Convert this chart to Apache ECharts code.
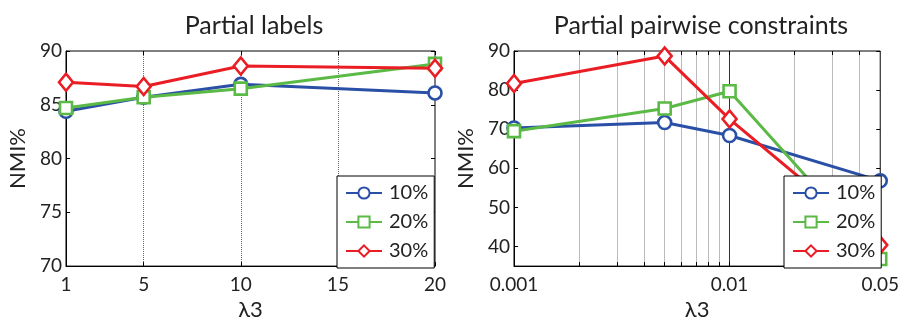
<!DOCTYPE html>
<html><head><meta charset="utf-8">
<script src="https://cdn.jsdelivr.net/npm/echarts@6/dist/echarts.min.js"></script>
<style>html,body{margin:0;padding:0;background:#fff}#c{width:902px;height:326px}</style>
</head><body><div id="c"></div>
<script>
// ---- data ----
const seriesNames = ['10%', '20%', '30%'];
const labelX = [1, 5, 10, 20];
const labelTicksX = [1, 5, 10, 15, 20];
const labelTicksY = [70, 75, 80, 85, 90];
const label10 = [84.4, 85.7, 86.9, 86.1];
const label20 = [84.7, 85.7, 86.5, 88.8];
const label30 = [87.1, 86.7, 88.6, 88.4];

const pairX = [0.001, 0.005, 0.01, 0.05];
const pairLabelTicksX = [0.001, 0.01, 0.05];
const pairGridX = [0.002, 0.003, 0.004, 0.005, 0.006, 0.007, 0.008, 0.009, 0.01, 0.02, 0.03, 0.04];
const pairTicksY = [40, 50, 60, 70, 80, 90];
const pair10 = [70.3, 71.7, 68.4, 56.8];
const pair20 = [69.5, 75.3, 79.7, 36.8];
const pair30 = [81.7, 88.7, 72.6, 40.4];

const colors = ['#2a4fa6', '#5bb946', '#ea1c24'];
const symbols = ['circle', 'rect', 'diamond'];
const symbolSizes = [13, 12, [14, 17]];
const FONT = 'Lato, "Liberation Sans", sans-serif';
const TXT = '#222';

const chart = echarts.init(document.getElementById('c'), null, {renderer: 'canvas'});

function mkSeries(xs, ys, i, axisIdx) {
  return {
    name: seriesNames[i], type: 'line',
    xAxisIndex: axisIdx, yAxisIndex: axisIdx,
    data: xs.map((x, k) => [x, ys[k]]),
    symbol: symbols[i],
    symbolSize: symbolSizes[i],
    showAllSymbol: true,
    lineStyle: {color: colors[i], width: 3},
    itemStyle: {color: '#fff', borderColor: colors[i], borderWidth: 2.6},
    emphasis: {disabled: true},
    animation: false,
    clip: false,
    z: 3 + i
  };
}

const tickStyle = {show: true, inside: true, length: 4, lineStyle: {color: '#000', width: 1}};
const labelFont = {fontFamily: FONT, fontSize: 19, color: TXT};
const gridColors = pairGridX.map(v => v === 0.01 ? '#333' : '#bbb');

function mkLegend(left) {
  return {data: seriesNames, orient: 'vertical', left: left, top: 176, width: 92,
    backgroundColor: '#fff', borderColor: '#000', borderWidth: 1, borderRadius: 0,
    padding: [7, 6, 7, 8], itemGap: 9, itemWidth: 36, itemHeight: 14,
    textStyle: {fontFamily: FONT, fontSize: 20, color: TXT, padding: [0, 0, 0, 2]},
    selectedMode: false, z: 10};
}

const option = {
  animation: false,
  title: [
    {text: 'Partial labels', left: 249, top: 8, textAlign: 'center',
     textStyle: {fontFamily: FONT, fontSize: 25, fontWeight: 'normal', color: TXT}},
    {text: 'Partial pairwise constraints', left: 696, top: 8, textAlign: 'center',
     textStyle: {fontFamily: FONT, fontSize: 25, fontWeight: 'normal', color: TXT}}
  ],
  grid: [
    {left: 66, top: 51, width: 369, height: 222, show: true, borderColor: '#000', borderWidth: 1, backgroundColor: 'transparent'},
    {left: 514, top: 51, width: 369, height: 222, show: true, borderColor: '#000', borderWidth: 1, backgroundColor: 'transparent'}
  ],
  legend: [mkLegend(337), mkLegend(784)],
  xAxis: [
    {type: 'value', gridIndex: 0, min: 1, max: 20, position: 'bottom',
     name: 'λ3', nameLocation: 'middle', nameGap: 30,
     nameTextStyle: {fontFamily: FONT, fontSize: 22, color: TXT},
     axisLine: {show: true, onZero: false, lineStyle: {color: '#000'}},
     axisTick: Object.assign({customValues: labelTicksX}, tickStyle),
     axisLabel: Object.assign({customValues: labelTicksX, margin: 9}, labelFont),
     splitLine: {show: true, showMinLine: false, showMaxLine: false, lineStyle: {color: '#666', type: [1, 1], width: 1}}},
    {type: 'log', gridIndex: 1, min: 0.001, max: 0.05, logBase: 10, position: 'bottom',
     name: 'λ3', nameLocation: 'middle', nameGap: 30,
     nameTextStyle: {fontFamily: FONT, fontSize: 22, color: TXT},
     axisLine: {show: true, onZero: false, lineStyle: {color: '#000'}},
     axisTick: Object.assign({customValues: pairGridX}, tickStyle),
     axisLabel: Object.assign({customValues: pairLabelTicksX, margin: 9,
       formatter: v => String(+(+v).toPrecision(3))}, labelFont),
     splitLine: {show: true, lineStyle: {color: gridColors, width: 1}}},
    {type: 'value', gridIndex: 0, min: 1, max: 20, position: 'top',
     axisLine: {show: false}, axisLabel: {show: false}, splitLine: {show: false},
     axisTick: Object.assign({customValues: labelTicksX}, tickStyle)},
    {type: 'log', gridIndex: 1, min: 0.001, max: 0.05, position: 'top',
     axisLine: {show: false}, axisLabel: {show: false}, splitLine: {show: false},
     axisTick: Object.assign({customValues: pairGridX}, tickStyle)}
  ],
  yAxis: [
    {type: 'value', gridIndex: 0, min: 70, max: 90, interval: 5,
     name: 'NMI%', nameLocation: 'middle', nameGap: 37,
     nameTextStyle: {fontFamily: FONT, fontSize: 22, color: TXT},
     axisLine: {show: true, onZero: false, lineStyle: {color: '#000'}},
     axisTick: Object.assign({customValues: labelTicksY}, tickStyle),
     axisLabel: Object.assign({customValues: labelTicksY, margin: 4}, labelFont),
     splitLine: {show: false}},
    {type: 'value', gridIndex: 1, min: 35, max: 90,
     name: 'NMI%', nameLocation: 'middle', nameGap: 37,
     nameTextStyle: {fontFamily: FONT, fontSize: 22, color: TXT},
     axisLine: {show: true, onZero: false, lineStyle: {color: '#000'}},
     axisTick: Object.assign({customValues: pairTicksY}, tickStyle),
     axisLabel: Object.assign({customValues: pairTicksY, margin: 4}, labelFont),
     splitLine: {show: false}},
    {type: 'value', gridIndex: 0, min: 70, max: 90, position: 'right',
     axisLine: {show: false}, axisLabel: {show: false}, splitLine: {show: false},
     axisTick: Object.assign({customValues: labelTicksY}, tickStyle)},
    {type: 'value', gridIndex: 1, min: 35, max: 90, position: 'right',
     axisLine: {show: false}, axisLabel: {show: false}, splitLine: {show: false},
     axisTick: Object.assign({customValues: pairTicksY}, tickStyle)}
  ],
  series: [
    mkSeries(labelX, label10, 0, 0),
    mkSeries(labelX, label20, 1, 0),
    mkSeries(labelX, label30, 2, 0),
    mkSeries(pairX, pair10, 0, 1),
    mkSeries(pairX, pair20, 1, 1),
    mkSeries(pairX, pair30, 2, 1)
  ]
};
chart.setOption(option);
</script>
</body></html>
